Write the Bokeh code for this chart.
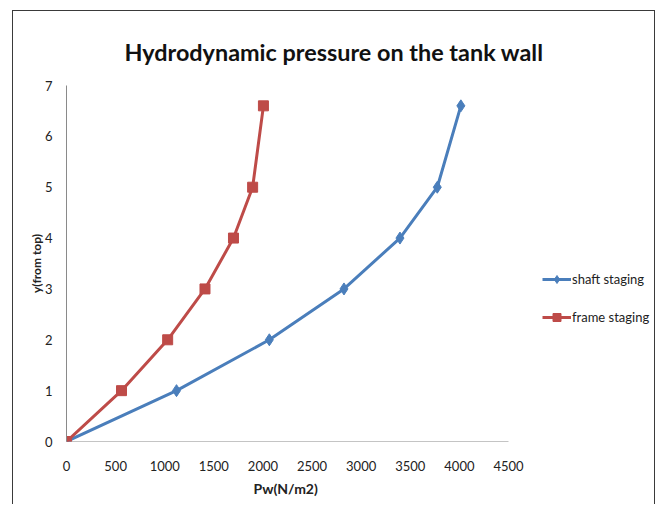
from bokeh.plotting import figure
from bokeh.models import Range1d, Legend, LegendItem, Title, FixedTicker
from bokeh.embed import file_html
from bokeh.resources import INLINE

# data
y_depth = [0, 1, 2, 3, 4, 5, 6.6]
shaft_staging = [0, 1120, 2065, 2825, 3395, 3775, 4015]
frame_staging = [0, 560, 1030, 1410, 1700, 1895, 2005]
x_ticks = [0, 500, 1000, 1500, 2000, 2500, 3000, 3500, 4000, 4500]
y_ticks = [0, 1, 2, 3, 4, 5, 6, 7]
x_axis_max = 4500

FONT = "Lato"
BLUE = "#4A7EBB"
RED = "#BE4B48"

W, H = 643, 494
BL, BR = 53, 5
frame_w = W - BL - BR
axis_px = 442  # pixel length of the drawn 0..4500 axis
x_end = x_axis_max * frame_w / axis_px

p = figure(width=W, height=H, output_backend="svg", toolbar_location=None,
           x_range=Range1d(0, x_end), y_range=Range1d(0, 7),
           min_border_left=BL, min_border_right=BR, min_border_top=74, min_border_bottom=64)
p.margin = (10, 0, 0, 12)
p.styles = {"border-top": "1px solid #3a3a3a", "border-left": "1px solid #3a3a3a",
            "border-right": "1px solid #3a3a3a", "box-sizing": "border-box"}
p.outline_line_color = None
p.xgrid.visible = False
p.ygrid.visible = False

p.title.text = "Hydrodynamic pressure on the tank wall"
p.title.align = "left"
p.title.vertical_align = "top"
p.title.offset = 58
p.title.standoff = 36
p.title.text_font = FONT
p.title.text_font_size = "23.4px"
p.title.text_font_style = "bold"
p.title.text_color = "#111111"

for ax in (p.xaxis[0], p.yaxis[0]):
    ax.axis_line_color = "#8a8a8a"
    ax.axis_line_width = 1
    ax.major_tick_line_color = None
    ax.minor_tick_line_color = None
    ax.major_label_text_font = FONT
    ax.major_label_text_font_size = "13px"
    ax.major_label_text_color = "#222222"

p.xaxis.axis_line_color = None
p.segment(x0=[0], y0=[0], x1=[x_axis_max], y1=[0], line_color="#8a8a8a", line_width=1)

p.xaxis.ticker = FixedTicker(ticks=x_ticks)
p.yaxis.ticker = FixedTicker(ticks=y_ticks)
p.xaxis.major_label_standoff = 13
p.yaxis.major_label_standoff = 8
p.yaxis.axis_label = "y(from top)"
p.yaxis.axis_label_text_font = FONT
p.yaxis.axis_label_text_font_style = "bold"
p.yaxis.axis_label_text_color = "#222222"
p.yaxis.axis_label_text_font_size = "12px"
p.yaxis.axis_label_standoff = -2

xt = Title(text="Pw(N/m2)", align="left", offset=187, standoff=8,
           text_font=FONT, text_font_size="14px", text_font_style="bold", text_color="#222222")
p.add_layout(xt, "below")

l1 = p.line(shaft_staging, y_depth, line_color=BLUE, line_width=3)
m1 = p.scatter(shaft_staging, y_depth, marker="diamond", size=12, fill_color=BLUE, line_color=BLUE)
l2 = p.line(frame_staging, y_depth, line_color=RED, line_width=3)
m2 = p.scatter(frame_staging, y_depth, marker="square", size=10, fill_color=RED, line_color=RED)

legend = Legend(items=[LegendItem(label="shaft staging", renderers=[l1, m1]),
                       LegendItem(label="frame staging", renderers=[l2, m2])],
                location=(476, 114), border_line_color=None, background_fill_alpha=0,
                label_text_font=FONT, label_text_font_size="13px", label_text_color="#222222",
                glyph_width=29, label_standoff=1, spacing=18, padding=0, margin=0)
p.add_layout(legend, "center")

open("out.html", "w").write(file_html(p, INLINE))
